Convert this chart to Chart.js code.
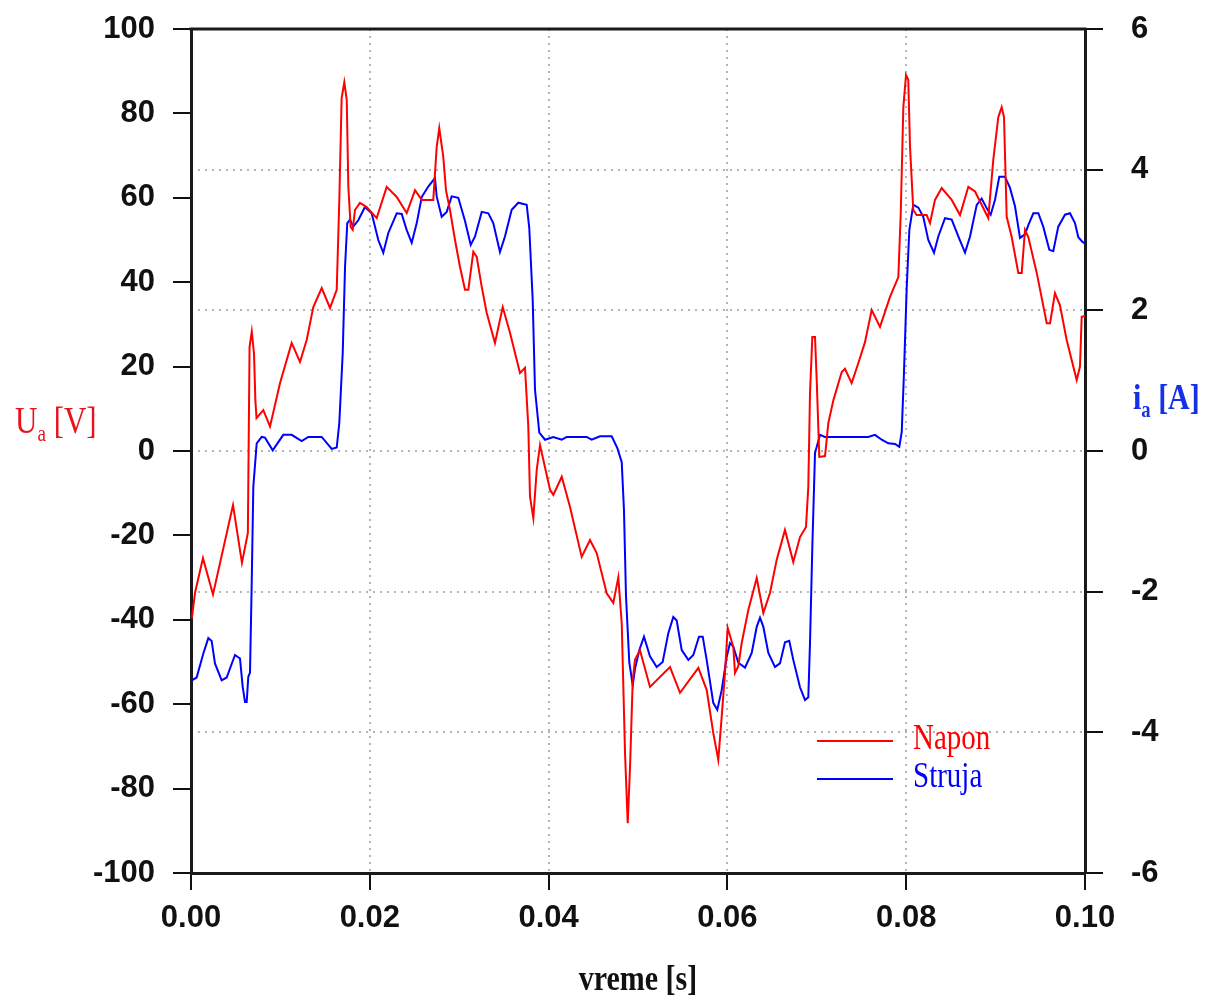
<!DOCTYPE html>
<html>
<head>
<meta charset="utf-8">
<script src="https://cdn.jsdelivr.net/npm/chart.js@4.4.0/dist/chart.umd.min.js"></script>
<style>
  html, body { margin: 0; padding: 0; background: #fff; }
  canvas { display: block; }
</style>
</head>
<body>
<canvas id="chart" width="1216" height="1001"></canvas>
<script>
// Napon (voltage, left axis) - time [s]
const naponT = [0.0001, 0.00045, 0.00134, 0.00246, 0.0047, 0.0057, 0.00636, 0.00655, 0.0068, 0.00705, 0.0072, 0.00733,
  0.00809, 0.00884, 0.00996, 0.01126, 0.01219, 0.01294, 0.01368, 0.01462, 0.01555, 0.0163, 0.01659, 0.01685,
  0.01715, 0.01742, 0.0176, 0.01786, 0.01809, 0.01834, 0.0189, 0.01965, 0.02077, 0.02189, 0.02301, 0.02413,
  0.02506, 0.02581, 0.0271, 0.02748, 0.02777, 0.02822, 0.02852, 0.02897, 0.02953, 0.03009, 0.03065, 0.03102,
  0.03158, 0.03196, 0.03252, 0.03308, 0.034, 0.03487, 0.03568, 0.0368, 0.03736, 0.03773, 0.03792, 0.03829,
  0.03867, 0.03904, 0.04016, 0.04053, 0.04147, 0.04239, 0.0437, 0.04463, 0.04538, 0.0465, 0.04724, 0.0478,
  0.04818, 0.04855, 0.04885, 0.04911, 0.04941, 0.04966, 0.05022, 0.05134, 0.05358, 0.0547, 0.05675, 0.05768,
  0.05842, 0.05898, 0.05936, 0.05973, 0.06003, 0.06066, 0.06085, 0.06122, 0.0616, 0.06234, 0.06328, 0.06402,
  0.06477, 0.06551, 0.06644, 0.06737, 0.06812, 0.06879, 0.06905, 0.06924, 0.0695, 0.0698, 0.06999, 0.07028,
  0.07092, 0.07129, 0.07185, 0.07279, 0.07315, 0.0739, 0.07464, 0.07539, 0.07614, 0.07707, 0.07819, 0.07912,
  0.07939, 0.07968, 0.07998, 0.08023, 0.08043, 0.08079, 0.08117, 0.08229, 0.08266, 0.08322, 0.08397, 0.08509,
  0.08602, 0.08695, 0.0877, 0.08918, 0.08974, 0.0903, 0.09068, 0.09094, 0.09124, 0.0918, 0.09254, 0.09292,
  0.09329, 0.09366, 0.0946, 0.09572, 0.09609, 0.09664, 0.0972, 0.09795, 0.09907, 0.09944, 0.09963, 0.1];
const naponV = [-39.6, -33.6, -25.4, -34, -12.8, -26.5, -19.4, 24.6, 28.3, 23, 12, 7.8,
  9.7, 5.8, 16.1, 25.6, 21.1, 26.3, 34.1, 38.6, 33.9, 38.2, 59.5, 83.6,
  87.4, 83.2, 62.6, 53.1, 52.4, 57.1, 58.8, 57.8, 55.2, 62.6, 60.2, 56.4,
  61.8, 59.5, 59.5, 72, 76.5, 69.7, 61.8, 57.1, 50, 43.6, 38.2, 38.2,
  47.2, 46, 38.9, 32.7, 25.6, 34.1, 28, 18.5, 19.7, 5.8, -10.8, -15.9,
  -4.5, 1.4, -9.2, -10.4, -6.1, -13.2, -25.1, -21.1, -24.2, -33.7, -36, -29.9,
  -40.8, -71.6, -88.2, -74.9, -54.3, -49.5, -47.2, -55.9, -51.2, -57.3, -51.4, -56.6,
  -66.8, -73.2, -63, -52.6, -41.9, -46.4, -52.6, -51, -45.5, -37.7, -30.1, -38.4,
  -33.6, -25.8, -18.7, -26.3, -20.4, -18, -8.5, 13.7, 27, 27, 16.8, -1.4,
  -1.2, 6.6, 12, 18.7, 19.5, 16.1, 20.8, 25.8, 33.4, 29.4, 36.5, 41.2,
  56.4, 81.5, 89.1, 88, 72, 57.1, 55.9, 55.9, 54, 59.5, 62.3, 59.5,
  55.9, 62.6, 61.5, 55.2, 69, 79.1, 81.5, 79.1, 55.5, 50.7, 42.2, 42.2,
  52.4, 50.7, 42.2, 30.3, 30.3, 37.4, 34.5, 26.3, 16.8, 20, 31.8, 32];

// Struja (current, right axis) - time [s]
const strujaT = [0.0001, 0.00063, 0.00138, 0.00194, 0.00231, 0.00268, 0.00343, 0.00399, 0.00492, 0.00548, 0.00578,
  0.00604, 0.00623, 0.00641, 0.0066, 0.00679, 0.00697, 0.00735, 0.00791, 0.00828, 0.00914, 0.01032, 0.01126,
  0.01238, 0.01312, 0.01462, 0.01574, 0.0163, 0.01659, 0.01697, 0.01723, 0.01748, 0.01779, 0.01815, 0.01871,
  0.01946, 0.02021, 0.02095, 0.02151, 0.02207, 0.02301, 0.02357, 0.02413, 0.02469, 0.02525, 0.02581, 0.02654,
  0.02729, 0.02748, 0.02804, 0.0286, 0.02916, 0.0299, 0.03065, 0.03129, 0.03177, 0.03252, 0.03326, 0.03381,
  0.03456, 0.03512, 0.03587, 0.03661, 0.03755, 0.03784, 0.03822, 0.03848, 0.03896, 0.0396, 0.04053, 0.04147,
  0.04203, 0.04426, 0.04482, 0.04575, 0.04706, 0.04769, 0.04818, 0.04843, 0.04866, 0.04903, 0.04941, 0.04966,
  0.05015, 0.05067, 0.05134, 0.05209, 0.05276, 0.05339, 0.05395, 0.05433, 0.05489, 0.05563, 0.05619, 0.05682,
  0.05724, 0.05768, 0.05842, 0.05887, 0.05936, 0.05992, 0.06029, 0.06066, 0.06122, 0.06197, 0.06272, 0.06328,
  0.06365, 0.06402, 0.06458, 0.06532, 0.06588, 0.06644, 0.06692, 0.06737, 0.06812, 0.06868, 0.06905, 0.06924,
  0.0695, 0.0698, 0.07036, 0.07092, 0.07576, 0.07651, 0.07726, 0.078, 0.07875, 0.07923, 0.0795, 0.07975,
  0.08006, 0.08035, 0.08079, 0.08136, 0.08191, 0.08247, 0.08311, 0.08359, 0.08434, 0.08509, 0.08583, 0.08658,
  0.08714, 0.08789, 0.08844, 0.08901, 0.08945, 0.08993, 0.09041, 0.09105, 0.09161, 0.09217, 0.09273, 0.09329,
  0.09366, 0.09422, 0.09478, 0.09533, 0.09601, 0.09645, 0.09701, 0.09776, 0.09832, 0.09888, 0.09925, 0.09975, 0.1];
const strujaI = [-3.26, -3.22, -2.88, -2.66, -2.7, -3.02, -3.26, -3.22, -2.9, -2.95, -3.35,
  -3.57, -3.57, -3.21, -3.15, -1.88, -0.51, 0.11, 0.2, 0.19, 0.01, 0.23, 0.23,
  0.14, 0.2, 0.2, 0.03, 0.05, 0.4, 1.39, 2.62, 3.24, 3.29, 3.19, 3.28,
  3.47, 3.38, 3.0, 2.82, 3.1, 3.38, 3.37, 3.14, 2.96, 3.24, 3.61, 3.76,
  3.88, 3.62, 3.33, 3.4, 3.62, 3.6, 3.27, 2.93, 3.05, 3.4, 3.38, 3.24,
  2.83, 3.05, 3.43, 3.53, 3.5, 3.17, 2.15, 0.87, 0.26, 0.16, 0.2, 0.16,
  0.2, 0.2, 0.16, 0.21, 0.21, 0.04, -0.16, -0.84, -2.07, -3.01, -3.33, -3.1,
  -2.83, -2.64, -2.92, -3.07, -3.0, -2.59, -2.36, -2.41, -2.83, -2.97, -2.9, -2.64,
  -2.64, -2.97, -3.58, -3.68, -3.4, -2.93, -2.73, -2.78, -3.01, -3.08, -2.87, -2.5,
  -2.37, -2.5, -2.87, -3.07, -3.02, -2.72, -2.7, -2.97, -3.36, -3.54, -3.5, -2.73,
  -1.36, -0.03, 0.23, 0.2, 0.2, 0.23, 0.16, 0.11, 0.1, 0.06, 0.27, 1.11,
  2.33, 3.14, 3.5, 3.46, 3.33, 3.0, 2.82, 3.05, 3.31, 3.29, 3.05, 2.82,
  3.05, 3.5, 3.59, 3.45, 3.36, 3.57, 3.9, 3.9, 3.74, 3.48, 3.03, 3.08,
  3.21, 3.38, 3.38, 3.19, 2.86, 2.84, 3.19, 3.36, 3.38, 3.24, 3.04, 2.97, 2.95];

const seriesNames = ['Napon', 'Struja'];
const xRange = [0, 0.1];
const voltRange = [-100, 100];
const ampRange = [-6, 6];

const toPoints = (ts, vs) => ts.map((t, i) => ({ x: t, y: vs[i] }));

const TICK_FONT = { family: '"Liberation Sans", Arial, sans-serif', size: 31, weight: 'bold' };
const SERIF = '"Liberation Serif", "Times New Roman", serif';
const RED = '#ff0000', BLUE = '#0000ff';
const GRID = '#b4b4b4';

// titles (with subscripts) and the inner legend, slightly stretched vertically like the original
function drawSubText(ctx, x, y, parts, color, weight, size) {
  ctx.save();
  ctx.translate(x, y);
  ctx.scale(1, 1.2);
  ctx.fillStyle = color;
  ctx.textBaseline = 'alphabetic';
  ctx.textAlign = 'left';
  let cx = 0;
  parts.forEach(p => {
    const s = p.sub ? size * 0.62 : size;
    ctx.font = `${weight} ${s}px ${SERIF}`;
    ctx.fillText(p.t, cx, p.sub ? size * 0.22 : 0);
    cx += ctx.measureText(p.t).width;
  });
  ctx.restore();
}

const overlay = {
  id: 'overlay',
  afterDraw(chart) {
    const { ctx, chartArea: a } = chart;
    ctx.save();
    // top frame line
    ctx.strokeStyle = '#1a1a1a';
    ctx.lineWidth = 3;
    ctx.beginPath();
    ctx.moveTo(a.left - 1.5, a.top);
    ctx.lineTo(a.right + 1.5, a.top);
    ctx.stroke();

    // axis titles
    drawSubText(ctx, 15, 433, [{ t: 'U' }, { t: 'a', sub: true }, { t: ' [V]' }], '#e8121c', 'normal', 31);
    drawSubText(ctx, 1133, 409, [{ t: 'i' }, { t: 'a', sub: true }, { t: ' [A]' }], '#1530e8', 'bold', 30);
    ctx.save();
    ctx.font = `bold 30px ${SERIF}`;
    const w = ctx.measureText('vreme [s]').width;
    ctx.restore();
    drawSubText(ctx, (a.left + a.right) / 2 - w / 2, 990, [{ t: 'vreme [s]' }], '#111', 'bold', 30);

    // legend
    const ds = chart.data.datasets;
    const rows = [741, 779];
    ds.forEach((d, i) => {
      ctx.strokeStyle = d.borderColor;
      ctx.lineWidth = 2;
      ctx.beginPath();
      ctx.moveTo(817, rows[i]);
      ctx.lineTo(893, rows[i]);
      ctx.stroke();
      drawSubText(ctx, 913, rows[i] + 8, [{ t: d.label }], d.borderColor, 'normal', 29);
    });
    ctx.restore();
  }
};

// fixed axis sizes so the plot box sits where it does in the original
const fixV = w => s => { s.width = w; s.paddingTop = 0; s.paddingBottom = 0; };
const fixH = h => s => { s.height = h; s.paddingLeft = 0; s.paddingRight = 0; };

new Chart(document.getElementById('chart'), {
  type: 'line',
  data: {
    datasets: [
      {
        label: seriesNames[0],
        data: toPoints(naponT, naponV),
        yAxisID: 'y',
        borderColor: RED,
        borderWidth: 2,
        pointRadius: 0,
        tension: 0,
        fill: false
      },
      {
        label: seriesNames[1],
        data: toPoints(strujaT, strujaI),
        yAxisID: 'y2',
        borderColor: BLUE,
        borderWidth: 2,
        pointRadius: 0,
        tension: 0,
        fill: false
      }
    ]
  },
  options: {
    responsive: false,
    devicePixelRatio: 1,
    animation: false,
    layout: { padding: { top: 29, left: 0, right: 0, bottom: 0 } },
    plugins: {
      legend: { display: false },
      tooltip: { enabled: false }
    },
    scales: {
      x: {
        type: 'linear',
        min: xRange[0],
        max: xRange[1],
        ticks: {
          stepSize: 0.02,
          color: '#111',
          font: TICK_FONT,
          padding: 10,
          maxRotation: 0,
          callback: v => v.toFixed(2)
        },
        grid: {
          color: GRID,
          lineWidth: 2,
          tickColor: '#111',
          tickLength: 17,
          tickWidth: 2,
          tickBorderDash: []
        },
        border: { display: true, color: '#1a1a1a', width: 3, dash: [2, 5] },
        afterFit: fixH(128)
      },
      y: {
        position: 'left',
        min: voltRange[0],
        max: voltRange[1],
        ticks: { stepSize: 20, color: '#111', font: TICK_FONT, padding: 18 },
        grid: {
          drawOnChartArea: false,
          color: '#111',
          tickLength: 18,
          tickWidth: 2,
          lineWidth: 2
        },
        border: { display: true, color: '#1a1a1a', width: 3 },
        afterFit: fixV(191)
      },
      y2: {
        position: 'right',
        min: ampRange[0],
        max: ampRange[1],
        ticks: { stepSize: 2, color: '#111', font: TICK_FONT, padding: 28 },
        grid: {
          color: GRID,
          lineWidth: 2,
          tickColor: '#111',
          tickLength: 18,
          tickWidth: 2,
          tickBorderDash: []
        },
        border: { display: true, color: '#1a1a1a', width: 3, dash: [2, 5] },
        afterFit: fixV(131)
      }
    }
  },
  plugins: [overlay]
});
</script>
</body>
</html>
